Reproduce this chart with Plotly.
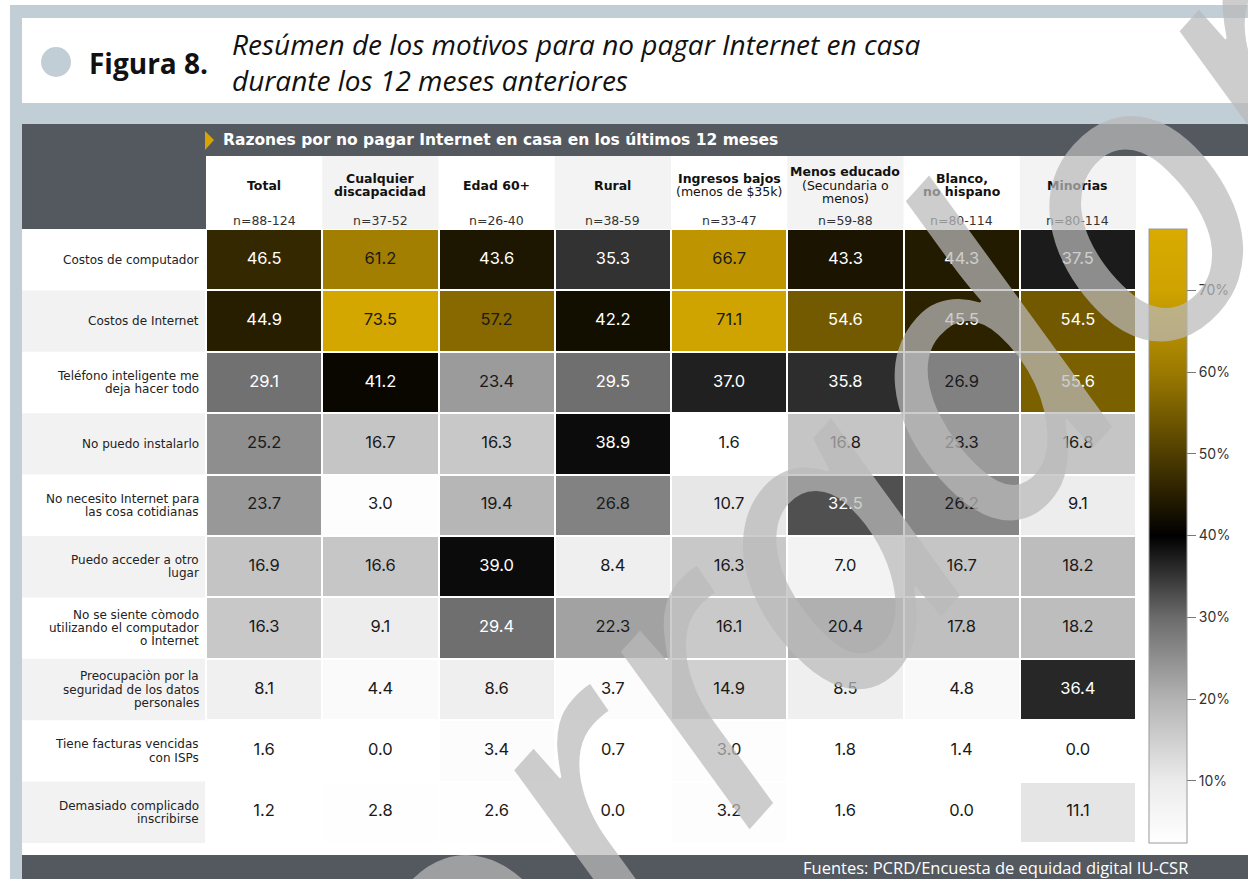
import plotly.graph_objects as go

W, H = 1248, 879

# ---------------- data ----------------
columns = ["Total", "Cualquier discapacidad", "Edad 60+", "Rural",
           "Ingresos bajos", "Menos educado", "Blanco, no hispano", "Minorias"]
column_labels = [["<b>Total</b>"],
                 ["<b>Cualquier</b>", "<b>discapacidad</b>"],
                 ["<b>Edad 60+</b>"],
                 ["<b>Rural</b>"],
                 ["<b>Ingresos bajos</b>", "(menos de $35k)"],
                 ["<b>Menos educado</b>", "(Secundaria o", "menos)"],
                 ["<b>Blanco,</b>", "<b>no hispano</b>"],
                 ["<b>Minorias</b>"]]
sample_sizes = ["n=88-124", "n=37-52", "n=26-40", "n=38-59",
                "n=33-47", "n=59-88", "n=80-114", "n=80-114"]
reasons = ["Costos de computador",
           "Costos de Internet",
           "Teléfono inteligente me<br>deja hacer todo",
           "No puedo instalarlo",
           "No necesito Internet para<br>las cosa cotidianas",
           "Puedo acceder a otro<br>lugar",
           "No se siente còmodo<br>utilizando el computador<br>o Internet",
           "Preocupaciòn por la<br>seguridad de los datos<br>personales",
           "Tiene facturas vencidas<br>con ISPs",
           "Demasiado complicado<br>inscribirse"]

total        = [46.5, 44.9, 29.1, 25.2, 23.7, 16.9, 16.3, 8.1, 1.6, 1.2]
discapacidad = [61.2, 73.5, 41.2, 16.7, 3.0, 16.6, 9.1, 4.4, 0.0, 2.8]
edad60       = [43.6, 57.2, 23.4, 16.3, 19.4, 39.0, 29.4, 8.6, 3.4, 2.6]
rural        = [35.3, 42.2, 29.5, 38.9, 26.8, 8.4, 22.3, 3.7, 0.7, 0.0]
ingresos     = [66.7, 71.1, 37.0, 1.6, 10.7, 16.3, 16.1, 14.9, 3.0, 3.2]
educado      = [43.3, 54.6, 35.8, 16.8, 32.5, 7.0, 20.4, 8.5, 1.8, 1.6]
blanco       = [44.3, 45.5, 26.9, 23.3, 26.2, 16.7, 17.8, 4.8, 1.4, 0.0]
minorias     = [37.5, 54.5, 55.6, 16.8, 9.1, 18.2, 18.2, 36.4, 0.0, 11.1]

series = [total, discapacidad, edad60, rural, ingresos, educado, blanco, minorias]
colorbar_ticks = [10, 20, 30, 40, 50, 60, 70]
colorbar_labels = [f"{v}%" for v in colorbar_ticks]

# ---------------- helpers ----------------
def px(x):
    return x / W

def py(y):
    return 1 - y / H

ZMIN, ZMAX = 2.4, 77.5

def t(v):
    return (v - ZMIN) / (ZMAX - ZMIN)

colorscale = [
    [0.0, "#ffffff"],
    [t(10), "#ebebeb"],
    [t(20), "#b3b3b3"],
    [t(30), "#6b6b6b"],
    [t(40), "#000000"],
    [t(50), "#503e00"],
    [t(60), "#9c7a00"],
    [t(70), "#cfa300"],
    [1.0, "#d9ab00"],
]

z = [[series[c][r] for c in range(len(columns))] for r in range(len(reasons))]

fig = go.Figure()

fig.add_trace(go.Heatmap(
    z=z, x=columns, y=reasons,
    zmin=ZMIN, zmax=ZMAX, colorscale=colorscale,
    xgap=2, ygap=2, hoverinfo="skip",
    colorbar=dict(
        x=px(1149), xanchor="left", xpad=0,
        y=py(229), yanchor="top", ypad=0,
        len=(843 - 229) / H, lenmode="fraction",
        thickness=38, thicknessmode="pixels",
        outlinecolor="#9a9a9a", outlinewidth=1,
        tickmode="array", tickvals=colorbar_ticks, ticktext=colorbar_labels,
        ticks="outside", ticklen=9, tickcolor="#777",
        tickfont=dict(family="Inter", size=14, color="#333"),
    ),
))

# cell value labels
tx, ty, tt, tc = [], [], [], []
for ci, col in enumerate(columns):
    for ri, rsn in enumerate(reasons):
        v = series[ci][ri]
        tx.append(col)
        ty.append(rsn)
        tt.append(f"{v:.1f}")
        tc.append("#ffffff" if 28 <= v <= 56 else "#1a1a1a")
fig.add_trace(go.Scatter(
    x=tx, y=ty, text=tt, mode="text",
    textfont=dict(family="Inter", size=16.5, color=tc),
    hoverinfo="skip", showlegend=False,
))

shapes = []
BG = "#c2ced6"
DARK = "#545960"
shapes.append(dict(type="rect", xref="paper", yref="paper", x0=px(10), x1=1, y0=0, y1=py(5),
                   fillcolor=BG, line_width=0, layer="below"))
shapes.append(dict(type="rect", xref="paper", yref="paper", x0=px(22), x1=1, y0=py(103), y1=py(18),
                   fillcolor="white", line_width=0, layer="below"))
shapes.append(dict(type="rect", xref="paper", yref="paper", x0=px(22), x1=1, y0=py(229), y1=py(124),
                   fillcolor=DARK, line_width=0, layer="below"))
shapes.append(dict(type="rect", xref="paper", yref="paper", x0=px(22), x1=1, y0=py(855), y1=py(229),
                   fillcolor="white", line_width=0, layer="below"))
shapes.append(dict(type="rect", xref="paper", yref="paper", x0=px(206), x1=1, y0=py(229), y1=py(156),
                   fillcolor="white", line_width=0, layer="below"))
shapes.append(dict(type="rect", xref="paper", yref="paper", x0=px(22), x1=1, y0=0, y1=py(855),
                   fillcolor=DARK, line_width=0, layer="below"))
colw = (1136 - 206) / len(columns)
for ci in range(len(columns)):
    if ci % 2 == 1:
        shapes.append(dict(type="rect", xref="paper", yref="paper",
                           x0=px(206 + ci * colw), x1=px(206 + (ci + 1) * colw),
                           y0=py(229), y1=py(156), fillcolor="#f4f3f3", line_width=0, layer="below"))
rowh = (843 - 229) / len(reasons)
for ri in range(len(reasons)):
    if ri % 2 == 1:
        shapes.append(dict(type="rect", xref="paper", yref="paper",
                           x0=px(22), x1=px(205),
                           y0=py(229 + (ri + 1) * rowh), y1=py(229 + ri * rowh),
                           fillcolor="#f3f2f2", line_width=0, layer="below"))
shapes.append(dict(type="circle", xref="paper", yref="paper",
                   x0=px(41), x1=px(71), y0=py(77), y1=py(47),
                   fillcolor=BG, line_width=0))
shapes.append(dict(type="path", xref="paper", yref="paper",
                   path=f"M {px(205)} {py(131)} L {px(214)} {py(140)} L {px(205)} {py(150)} Z",
                   fillcolor="#d9a400", line_width=0))

annotations = []
annotations.append(dict(xref="paper", yref="paper", x=px(87), y=py(63), xanchor="left", yanchor="middle",
                        text="<b>Figura 8.</b>", showarrow=False,
                        font=dict(family="Open Sans", size=28, color="#111")))
annotations.append(dict(xref="paper", yref="paper", x=px(230), y=py(62), xanchor="left", yanchor="middle",
                        align="left",
                        text="<i>Resúmen de los motivos para no pagar Internet en casa<br>durante los 12 meses anteriores</i>",
                        showarrow=False, font=dict(family="Open Sans", size=28, color="#111")))
annotations.append(dict(xref="paper", yref="paper", x=px(221), y=py(140), xanchor="left", yanchor="middle",
                        text="<b>Razones por no pagar Internet en casa en los últimos 12 meses</b>",
                        showarrow=False,
                        font=dict(family="DejaVu Sans", size=15.5, color="white")))
annotations.append(dict(xref="paper", yref="paper", x=px(1190), y=py(867), xanchor="right", yanchor="middle",
                        text="Fuentes: PCRD/Encuesta de equidad digital IU-CSR", showarrow=False,
                        font=dict(family="Open Sans", size=16.5, color="white")))
for col, lines, n in zip(columns, column_labels, sample_sizes):
    k = len(lines)
    for i, line in enumerate(lines):
        annotations.append(dict(xref="x", yref="paper", x=col, y=py(185), yanchor="middle",
                                yshift=((k - 1) / 2 - i) * 13.5,
                                text=line, showarrow=False,
                                font=dict(family="DejaVu Sans", size=12.5, color="#111")))
    annotations.append(dict(xref="x", yref="paper", x=col, y=py(220), yanchor="middle",
                            text=n, showarrow=False,
                            font=dict(family="DejaVu Sans", size=12.5, color="#333")))
for rsn in reasons:
    lines = rsn.split("<br>")
    k = len(lines)
    for i, line in enumerate(lines):
        annotations.append(dict(xref="paper", yref="y", x=px(201), y=rsn, xanchor="right", yanchor="middle",
                                yshift=((k - 1) / 2 - i) * 13.2,
                                text=line, showarrow=False,
                                font=dict(family="DejaVu Sans", size=12, color="#222")))
# watermark
annotations.append(dict(xref="paper", yref="paper", x=px(755), y=py(590), xanchor="center", yanchor="middle",
                        text="Borrador", textangle=-48, showarrow=False,
                        font=dict(family="Noto Sans", size=400, style="italic",
                                  color="rgba(186,186,186,0.72)")))

fig.update_layout(
    width=W, height=H,
    margin=dict(l=0, r=0, t=0, b=0),
    paper_bgcolor="white",
    plot_bgcolor="white",
    shapes=shapes,
    annotations=annotations,
    showlegend=False,
    xaxis=dict(domain=[px(206), px(1136)], showticklabels=False, showgrid=False,
               zeroline=False, ticks="", fixedrange=True),
    yaxis=dict(domain=[py(843), py(229)], showticklabels=False, showgrid=False,
               zeroline=False, ticks="", autorange="reversed", fixedrange=True),
)

fig.write_html("out.html")
